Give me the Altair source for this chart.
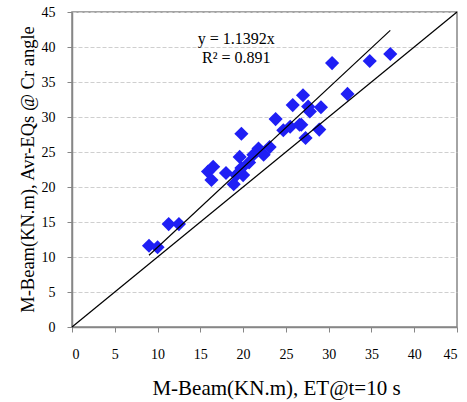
import altair as alt
import pandas as pd

# Data
x_et = [9.0, 10.0, 11.3, 12.5, 15.9, 16.3, 16.5, 18.0, 18.9, 19.2, 19.6, 19.8,
        19.8, 20.0, 20.7, 21.2, 21.8, 22.4, 23.1, 23.8, 24.7, 25.5, 25.8, 26.6,
        26.8, 27.0, 27.3, 27.6, 27.8, 28.9, 29.1, 30.4, 32.2, 34.8, 37.2]
y_avr = [11.6, 11.4, 14.7, 14.7, 22.2, 21.0, 22.9, 22.0, 20.4, 21.7, 24.3, 27.6,
         22.7, 21.7, 23.5, 24.6, 25.5, 24.6, 25.7, 29.7, 28.1, 28.6, 31.7, 28.9,
         28.9, 33.1, 27.0, 31.5, 30.8, 28.2, 31.4, 37.7, 33.3, 38.0, 39.0]

slope = 1.1392
r2 = 0.891
ticks = [0, 5, 10, 15, 20, 25, 30, 35, 40, 45]

pts = pd.DataFrame({"x": x_et, "y": y_avr})
trend = pd.DataFrame({"x": [min(x_et), max(x_et)]})
trend["y"] = trend["x"] * slope
diag = pd.DataFrame({"x": [0, 45], "y": [0, 45]})
ann = pd.DataFrame({
    "x": [19.2, 19.2],
    "y": [41.1, 38.5],
    "t": [f"y = {slope}x", f"R² = {r2}"],
})

FONT = "Liberation Serif"
scale = alt.Scale(domain=[0, 45], nice=False)

xaxis = alt.Axis(
    values=ticks, title="M-Beam(KN.m), ET@t=10 s", grid=False, labelOverlap=False,
    labelFont=FONT, labelFontSize=14, labelColor="black", labelPadding=15,
    titleFont=FONT, titleFontSize=21, titleFontWeight="normal", titleColor="black",
    titleBaseline="alphabetic", titleAlign="center", titleX=204, titleY=67,
    domainColor="#868686", domainWidth=1.5,
    tickColor="#868686", tickSize=5, tickWidth=1)
yaxis = alt.Axis(
    values=ticks, title="M-Beam(KN.m), Avr-EQs @ Cr angle", grid=True, labelOverlap=False,
    gridColor="#cfcfcf", gridDash=[4, 2], gridWidth=1,
    labelFont=FONT, labelFontSize=14, labelColor="black", labelPadding=12,
    titleFont=FONT, titleFontSize=18.5, titleFontWeight="normal", titleColor="black",
    titleBaseline="alphabetic", titleAlign="center", titleX=-39, titleY=157,
    domainColor="#868686", domainWidth=1.5,
    tickColor="#868686", tickSize=5, tickWidth=1)

xenc = alt.X("x:Q", scale=scale, axis=xaxis)
yenc = alt.Y("y:Q", scale=scale, axis=yaxis)

points = alt.Chart(pts).mark_point(
    shape="diamond", filled=True, size=200, color="#1f1ff5", opacity=1
).encode(x=xenc, y=yenc)

diag_line = alt.Chart(diag).mark_line(color="black", strokeWidth=1.2).encode(
    x=xenc, y=yenc)
trend_line = alt.Chart(trend).mark_line(color="black", strokeWidth=1.2).encode(
    x=xenc, y=yenc)

text = alt.Chart(ann).mark_text(font=FONT, fontSize=16, color="black",
                                align="center", baseline="middle").encode(
    x=xenc, y=yenc, text="t:N")

chart = alt.layer(points, diag_line, trend_line, text).properties(
    width=385, height=315,
    autosize=alt.AutoSizeParams(type="none"),
    padding={"left": 72, "top": 12, "right": 10, "bottom": 75},
    background="white",
).configure_view(stroke="#868686", strokeWidth=1.5)

chart.save("out.html", embed_options={"renderer": "svg", "actions": False})
